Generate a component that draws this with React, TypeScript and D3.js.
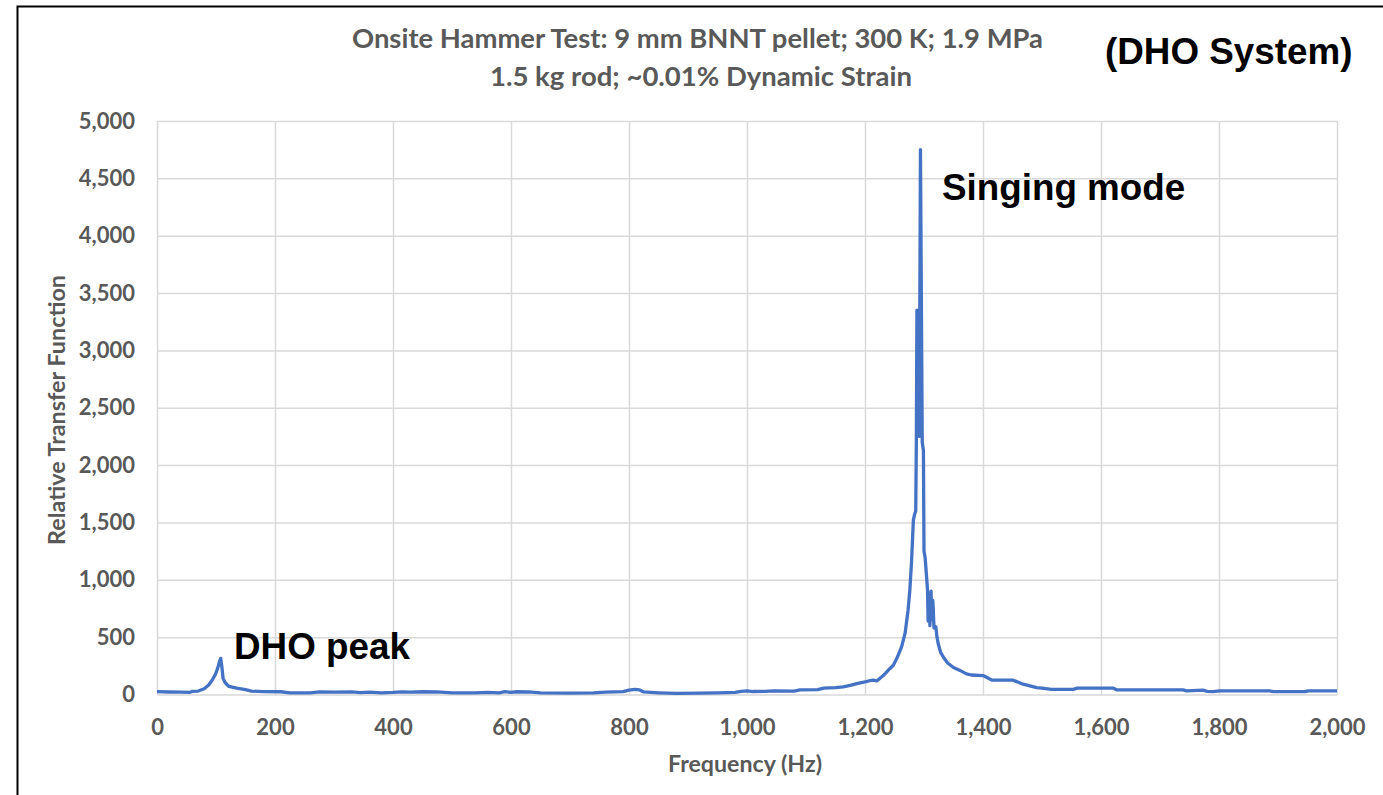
import React, { useRef, useEffect } from 'react';
import * as d3 from 'd3';

// frequency (Hz) and relative transfer function
const freq = [
  0, 20, 40, 55, 60, 70, 80, 88, 94, 99, 103, 106, 108, 110, 112, 116, 122, 135, 150, 160,
  180, 210, 225, 260, 275, 300, 330, 345, 360, 380, 400, 415, 430, 450, 475, 500, 540, 560, 580, 590,
  600, 610, 630, 650, 700, 740, 760, 790, 800, 810, 818, 825, 850, 880, 920, 950, 980, 990, 1000, 1010,
  1030, 1045, 1080, 1090, 1120, 1130, 1150, 1163, 1175, 1186, 1200, 1208, 1214, 1220, 1231, 1242, 1248, 1254, 1262, 1268,
  1273, 1276, 1279, 1282, 1284, 1286, 1287, 1288, 1289, 1291, 1292, 1294, 1297, 1299, 1300, 1301, 1302, 1304, 1306, 1307,
  1309, 1310, 1312, 1313, 1315, 1317, 1320, 1322, 1324, 1328, 1333, 1340, 1350, 1361, 1372, 1380, 1400, 1406, 1415, 1451,
  1468, 1491, 1500, 1516, 1553, 1560, 1621, 1627, 1739, 1745, 1773, 1780, 1790, 1801, 1886, 1892, 1946, 1951, 2000,
];
const transfer = [
  25, 22, 20, 18, 28, 30, 50, 85, 130, 175, 230, 290, 315, 240, 140, 100, 70, 55, 42, 30,
  25, 24, 15, 14, 22, 20, 22, 17, 20, 15, 18, 22, 20, 24, 22, 15, 15, 18, 15, 25,
  18, 24, 22, 15, 12, 14, 20, 25, 38, 45, 40, 22, 15, 10, 12, 15, 18, 28, 32, 26,
  28, 32, 30, 40, 42, 55, 60, 66, 80, 95, 110, 120, 125, 118, 165, 225, 255, 315, 415, 535,
  735, 910, 1170, 1520, 1570, 1600, 2190, 3350, 2300, 3300, 2250, 4750, 2200, 2130, 1250, 1220, 1190, 1050, 910, 640,
  880, 600, 900, 650, 820, 580, 590, 500, 445, 370, 325, 275, 235, 210, 180, 170, 165, 150, 125, 125,
  90, 60, 55, 45, 45, 55, 55, 40, 40, 32, 38, 28, 25, 32, 32, 25, 25, 32, 32,
];
const xTicks = [0, 200, 400, 600, 800, 1000, 1200, 1400, 1600, 1800, 2000];
const yTicks = [0, 500, 1000, 1500, 2000, 2500, 3000, 3500, 4000, 4500, 5000];

const App = () => {
  const ref = useRef<SVGSVGElement>(null);

  useEffect(() => {
    const svg = d3.select(ref.current);
    svg.selectAll('*').remove();

    const left = 157, right = 1337, top = 121, bottom = 694.5;
    const x = d3.scaleLinear().domain([0, 2000]).range([left, right]);
    const y = d3.scaleLinear().domain([0, 5000]).range([bottom, top]);
    const grey = '#595959';

    // frame round the picture
    svg.append('rect')
      .attr('x', 17.5).attr('y', 6.5)
      .attr('width', 1500).attr('height', 1000)
      .attr('fill', 'none').attr('stroke', '#000').attr('stroke-width', 2);

    // y axis + horizontal grid
    const gy = svg.append('g')
      .attr('transform', `translate(${left},0)`)
      .call(d3.axisLeft(y).tickValues(yTicks).tickSize(-(right - left)).tickPadding(22).tickFormat(d3.format(',')));
    gy.select('.domain').remove();
    gy.selectAll('line').attr('stroke', '#d9d9d9').attr('stroke-width', 1.5);
    gy.selectAll('text')
      .attr('font-family', 'Lato').attr('font-weight', 'bold')
      .attr('font-size', 22).attr('fill', grey);

    // x axis + vertical grid
    const gx = svg.append('g')
      .attr('transform', `translate(0,${bottom})`)
      .call(d3.axisBottom(x).tickValues(xTicks).tickSize(-(bottom - top)).tickPadding(25).tickFormat(d3.format(',')));
    gx.select('.domain').remove();
    gx.selectAll('line').attr('stroke', '#d9d9d9').attr('stroke-width', 1.5);
    gx.selectAll('text')
      .attr('font-family', 'Lato').attr('font-weight', 'bold')
      .attr('font-size', 22).attr('fill', grey);

    // the spectrum
    const line = d3.line<number>()
      .x((d, i) => x(freq[i]))
      .y(d => y(d));
    svg.append('path')
      .datum(transfer)
      .attr('d', line)
      .attr('fill', 'none')
      .attr('stroke', '#4472C4')
      .attr('stroke-width', 3.3)
      .attr('stroke-linejoin', 'round');

    // titles
    const title = svg.append('g')
      .attr('font-family', 'Lato').attr('font-weight', 'bold')
      .attr('fill', grey).attr('text-anchor', 'middle');
    title.append('text').attr('x', 697.5).attr('y', 48).attr('font-size', 26)
      .attr('textLength', 691).attr('lengthAdjust', 'spacingAndGlyphs')
      .text('Onsite Hammer Test: 9 mm BNNT pellet; 300 K; 1.9 MPa');
    title.append('text').attr('x', 701).attr('y', 86).attr('font-size', 26)
      .attr('textLength', 422).attr('lengthAdjust', 'spacingAndGlyphs')
      .text('1.5 kg rod; ~0.01% Dynamic Strain');

    title.append('text').attr('x', 745).attr('y', 772).attr('font-size', 22)
      .attr('textLength', 154).attr('lengthAdjust', 'spacingAndGlyphs')
      .text('Frequency (Hz)');
    title.append('text')
      .attr('transform', 'translate(65,410) rotate(-90)')
      .attr('font-size', 22)
      .attr('textLength', 270).attr('lengthAdjust', 'spacingAndGlyphs')
      .text('Relative Transfer Function');

    // annotations
    const note = svg.append('g')
      .attr('font-family', 'Liberation Sans, Arial, sans-serif')
      .attr('font-weight', 'bold').attr('font-size', 36.8).attr('fill', '#000');
    note.append('text').attr('x', 1105).attr('y', 64).text('(DHO System)');
    note.append('text').attr('x', 942).attr('y', 200).text('Singing mode');
    note.append('text').attr('x', 234).attr('y', 659).text('DHO peak');
  }, []);

  return (
    <svg
      ref={ref}
      width={1383}
      height={795}
      style={{ position: 'absolute', left: 0, top: 0, background: '#fff' }}
    />
  );
};

export default App;
